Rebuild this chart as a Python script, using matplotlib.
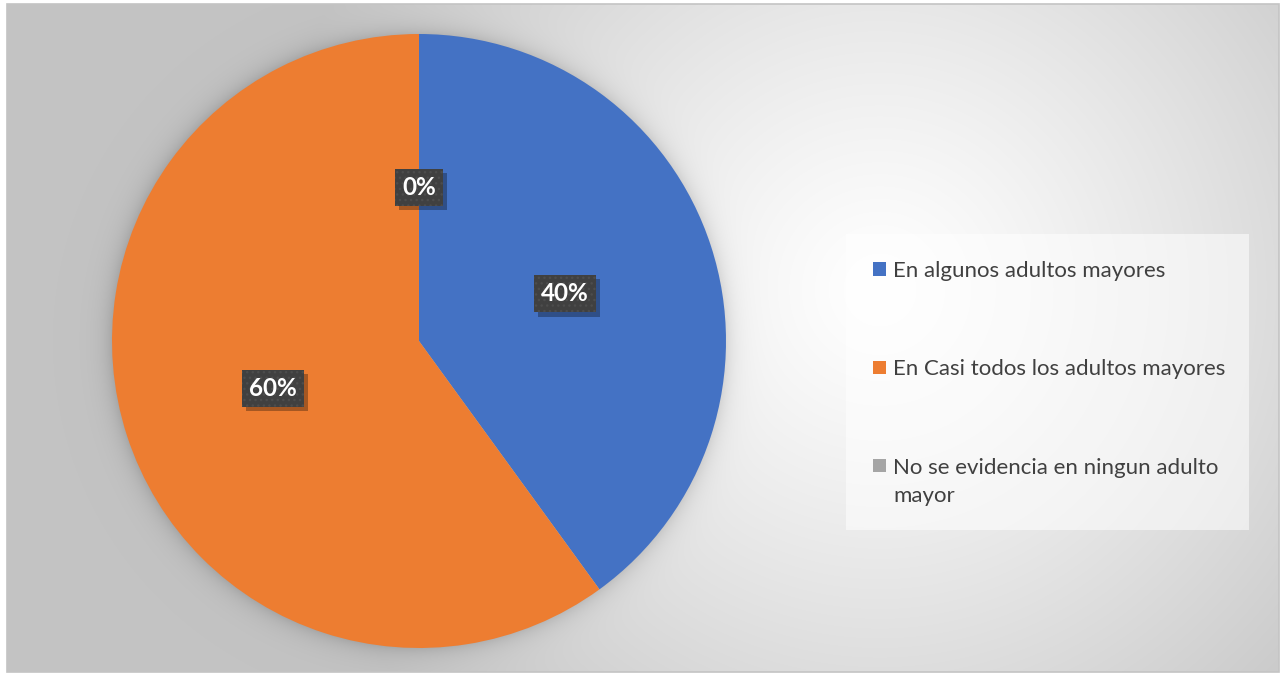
import numpy as np
import matplotlib
matplotlib.use("Agg")
import matplotlib.pyplot as plt
from matplotlib import patheffects as pe
from matplotlib.patches import Rectangle

# data
categories = ["En algunos adultos mayores",
              "En Casi todos los adultos mayores",
              "No se evidencia en ningun adulto mayor"]
legend_labels = ["En algunos adultos mayores",
                 "En Casi todos los adultos mayores",
                 "No se evidencia en ningun adulto\nmayor"]
shares = [40, 60, 0]
colors = ["#4472C4", "#ED7D31", "#A5A5A5"]

plt.rcParams["font.family"] = ["Lato", "DejaVu Sans"]
plt.rcParams["hatch.linewidth"] = 1.0

W, H = 1288, 675
fig = plt.figure(figsize=(W / 100, H / 100), dpi=100)
fig.patch.set_facecolor("white")


def fx(px):
    return px / W


def fy(py):
    # top-down pixel -> figure fraction
    return 1 - py / H


# chart area (pixels, top-down)
fx0, fy0, fx1, fy1 = 7, 4, 1279, 672
bg_ax = fig.add_axes([fx(fx0), fy(fy1), (fx1 - fx0) / W, (fy1 - fy0) / H], zorder=0)
ax = fig.add_axes([fx(112), 27 / H, 614 / W, 614 / H], zorder=1)

wedges, texts, autotexts = ax.pie(shares, colors=colors, startangle=90,
                                  counterclock=False, autopct="%1.0f%%",
                                  pctdistance=0.5, radius=1,
                                  wedgeprops=dict(linewidth=0))
ax.set_xlim(-1, 1)
ax.set_ylim(-1, 1)

# radial gradient background with a soft glow around the pie
cx, cy = ax.transData.transform((0, 0))
r_px = ax.transData.transform((1, 0))[0] - cx
cy = H - cy
yy, xx = np.mgrid[fy0:fy1, fx0:fx1] + 0.5
d = np.hypot(xx - 880, yy - 290)
t = np.clip(d / 620, 0, 1) ** 1.2
shade = 1 - (1 - 0.765) * t
dp = np.hypot(xx - cx, yy - cy) - r_px
shade = shade - 0.11 * np.exp(-np.clip(dp, 0, None) / 10)
img = np.dstack([shade] * 3)
bg_ax.imshow(img, extent=(fx0, fx1, fy1, fy0), aspect="auto", interpolation="bilinear")
bg_ax.set_xlim(fx0, fx1)
bg_ax.set_ylim(fy1, fy0)
bg_ax.axis("off")
fig.patches.append(Rectangle((fx(fx0), fy(fy1)), (fx1 - fx0) / W, (fy1 - fy0) / H,
                             transform=fig.transFigure, fill=False,
                             edgecolor="#c4c4c4", linewidth=1.2, zorder=5))

# percentage labels in dark dotted boxes with a drop shadow
for at in autotexts:
    at.set(color="white", fontsize=17.5, fontweight="bold")
    at.set_bbox(dict(boxstyle="square,pad=0.3", facecolor="#404040",
                     edgecolor="#4d4d4d", linewidth=0, hatch="..."))
    at.get_bbox_patch().set_path_effects([
        pe.SimplePatchShadow(offset=(3, -3), shadow_rgbFace="black",
                             alpha=0.3, hatch=None),
        pe.Normal()])

# legend panel
fig.patches.append(Rectangle((fx(846), fy(530)), (1249 - 846) / W, (530 - 234) / H,
                             transform=fig.transFigure, facecolor="white",
                             alpha=0.55, edgecolor="none", zorder=2))
baselines = [277, 375, 473]
line_step = 29.5
for label, col, yb in zip(legend_labels, colors, baselines):
    fig.patches.append(Rectangle((fx(873), fy(yb - 1.5)), 13 / W, 13 / H,
                                 transform=fig.transFigure, facecolor=col,
                                 edgecolor="none", zorder=3))
    # baseline alignment uses the last line, so shift multi-line labels down
    n_extra = label.count("\n")
    fig.text(fx(893), fy(yb + n_extra * line_step), label, fontsize=16,
             color="#404040", va="baseline", ha="left", linespacing=1.5, zorder=3)

fig.savefig("out.png", dpi=100, facecolor="white")
